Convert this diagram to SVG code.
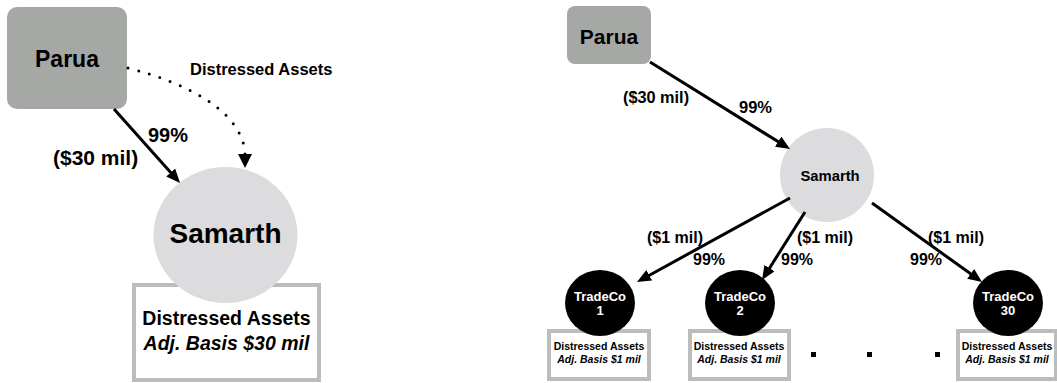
<svg xmlns="http://www.w3.org/2000/svg" width="1057" height="383" viewBox="0 0 1057 383">
<style>
text{font-family:"Liberation Sans",Arial,sans-serif;font-weight:bold;fill:#000}
.c{text-anchor:middle}
.w{fill:#fff}
.i{font-style:italic}
.parua{fill:#a6a8a6}
.sam{fill:#dcdcde}
.tc{fill:#000}
.box{fill:#fff;stroke:#bcbcbc;stroke-width:4}
.ln{stroke:#000;stroke-width:3;fill:none}
.dot{stroke:#000;stroke-width:3;fill:none;stroke-dasharray:0 11;stroke-linecap:round}
</style>
<defs>
<marker id="ah" markerUnits="userSpaceOnUse" markerWidth="14" markerHeight="12" refX="6" refY="6" orient="auto"><path d="M0,0 L14,6 L0,12 z" fill="#000"/></marker>
</defs>
<rect width="1057" height="383" fill="#fff"/>
<g id="left-box">
<rect class="box" x="134" y="285" width="185" height="95"/>
<text class="c" x="226.5" y="325" font-size="19.5">Distressed Assets</text>
<text class="c i" x="226.5" y="350" font-size="19.5">Adj. Basis $30 mil</text>
</g>
<g id="left-parua">
<rect class="parua" x="7" y="7" width="120" height="102" rx="10"/>
<text class="c" x="67" y="67" font-size="23">Parua</text>
</g>
<g id="left-samarth">
<ellipse class="sam" cx="225.5" cy="235" rx="72" ry="68"/>
<text class="c" x="225.5" y="243" font-size="28">Samarth</text>
</g>
<g id="right-parua">
<rect class="parua" x="567" y="6" width="84" height="58" rx="8"/>
<text class="c" x="609" y="44" font-size="21">Parua</text>
</g>
<g id="right-samarth">
<circle class="sam" cx="827" cy="175" r="47"/>
<text class="c" x="830" y="181" font-size="14.8">Samarth</text>
</g>
<g id="box1">
<rect class="box" x="549" y="331" width="100" height="48"/>
<text class="c" x="599" y="350" font-size="10.5">Distressed Assets</text>
<text class="c i" x="599" y="363" font-size="10.5">Adj. Basis $1 mil</text>
</g>
<g id="box2">
<rect class="box" x="690" y="331" width="99" height="48"/>
<text class="c" x="739" y="350" font-size="10.5">Distressed Assets</text>
<text class="c i" x="739" y="363" font-size="10.5">Adj. Basis $1 mil</text>
</g>
<g id="box30">
<rect class="box" x="958" y="331" width="98" height="48"/>
<text class="c" x="1007" y="350" font-size="10.5">Distressed Assets</text>
<text class="c i" x="1007" y="363" font-size="10.5">Adj. Basis $1 mil</text>
</g>
<g id="tradeco1">
<ellipse class="tc" cx="600" cy="303" rx="35" ry="33"/>
<text class="c w" x="600" y="301" font-size="13">TradeCo</text>
<text class="c w" x="600" y="315" font-size="13">1</text>
</g>
<g id="tradeco2">
<ellipse class="tc" cx="740" cy="303" rx="35" ry="33"/>
<text class="c w" x="740" y="301" font-size="13">TradeCo</text>
<text class="c w" x="740" y="315" font-size="13">2</text>
</g>
<g id="tradeco30">
<ellipse class="tc" cx="1008" cy="303" rx="35" ry="33"/>
<text class="c w" x="1008" y="301" font-size="13">TradeCo</text>
<text class="c w" x="1008" y="315" font-size="13">30</text>
</g>
<g id="ellipsis">
<rect x="811" y="352" width="5" height="5"/>
<rect x="867" y="352" width="5" height="5"/>
<rect x="935" y="352" width="5" height="5"/>
</g>
<g id="connectors">
<line class="ln" x1="114" y1="109" x2="174.7" y2="177" marker-end="url(#ah)"/>
<path class="dot" d="M128,68 C195,85 243,115 245,154"/>
<path d="M238,154 L252,154 L245,168 z" fill="#000"/>
<line class="ln" x1="650" y1="62" x2="783.2" y2="144.8" marker-end="url(#ah)"/>
<line class="ln" x1="790" y1="198" x2="644" y2="278.2" marker-end="url(#ah)"/>
<line class="ln" x1="805" y1="212" x2="766.3" y2="273.2" marker-end="url(#ah)"/>
<line class="ln" x1="872" y1="203" x2="975.5" y2="277.3" marker-end="url(#ah)"/>
</g>
<g id="labels">
<text x="190" y="75" font-size="16.5">Distressed Assets</text>
<text x="148" y="142" font-size="20">99%</text>
<text x="53" y="165" font-size="21">($30 mil)</text>
<text x="623" y="103" font-size="16.3">($30 mil)</text>
<text x="739" y="113" font-size="16.5">99%</text>
<text x="647" y="243" font-size="16">($1 mil)</text>
<text x="693" y="265" font-size="16">99%</text>
<text x="797" y="243" font-size="16">($1 mil)</text>
<text x="781" y="265" font-size="16">99%</text>
<text x="928" y="243" font-size="16">($1 mil)</text>
<text x="910" y="265" font-size="16">99%</text>
</g>
</svg>
